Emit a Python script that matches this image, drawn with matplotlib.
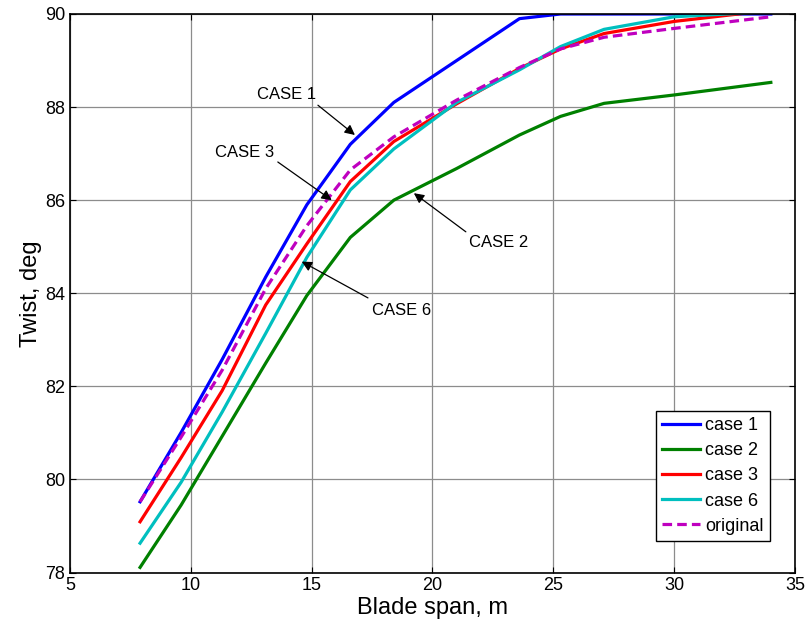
import matplotlib
matplotlib.use("Agg")
import matplotlib.pyplot as plt

plt.rcParams['font.family'] = ['Liberation Sans', 'DejaVu Sans']

span = [7.9, 9.6, 11.3, 13.1, 14.8, 16.6, 18.4, 21.0, 23.6, 25.3, 27.1, 30.0, 34.0]
case1 = [79.52, 81.01, 82.58, 84.35, 85.90, 87.20, 88.10, 89.00, 89.90, 90.00, 90.00, 90.00, 90.00]
case2 = [78.11, 79.45, 80.93, 82.50, 83.95, 85.20, 86.00, 86.68, 87.40, 87.80, 88.08, 88.26, 88.53]
case3 = [79.09, 80.47, 81.91, 83.75, 85.06, 86.40, 87.26, 88.07, 88.83, 89.25, 89.58, 89.84, 90.08]
case6 = [78.63, 79.94, 81.45, 83.14, 84.77, 86.22, 87.10, 88.10, 88.80, 89.30, 89.67, 89.94, 90.05]
original = [79.52, 80.91, 82.35, 84.10, 85.45, 86.65, 87.36, 88.15, 88.85, 89.25, 89.50, 89.69, 89.94]

series = [
    ("case 1", case1, "#0000ff", "-"),
    ("case 2", case2, "#008000", "-"),
    ("case 3", case3, "#ff0000", "-"),
    ("case 6", case6, "#00bfbf", "-"),
    ("original", original, "#bf00bf", "--"),
]

# annotations: label, text position, arrow tail, arrow tip
notes = [
    ("CASE 1", (13.98, 88.26), (15.26, 88.04), (16.79, 87.40)),
    ("CASE 3", (12.24, 87.03), (13.60, 86.82), (15.83, 86.00)),
    ("CASE 6", (18.74, 83.64), (17.33, 83.90), (14.59, 84.68)),
    ("CASE 2", (22.75, 85.08), (21.38, 85.32), (19.23, 86.15)),
]

fig = plt.figure(figsize=(8.09, 6.27), dpi=100)
ax = fig.add_axes([0.0865, 0.0869, 0.8962, 0.8908])

for name, vals, col, ls in series:
    ax.plot(span, vals, color=col, linestyle=ls, linewidth=2.3, label=name,
            dashes=(3, 1.6) if ls == "--" else (None, None))

for lab, tpos, tail, tip in notes:
    ax.text(tpos[0], tpos[1], lab, fontsize=12, ha="center", va="center")
    ax.annotate("", xy=tip, xytext=tail,
                arrowprops=dict(arrowstyle="-|>", color="black", lw=0.9,
                                mutation_scale=15, shrinkA=0, shrinkB=0))

ax.set_xlim(5, 35)
ax.set_ylim(78, 90)
ax.set_xticks([5, 10, 15, 20, 25, 30, 35])
ax.set_yticks([78, 80, 82, 84, 86, 88, 90])
ax.grid(True, color="#8c8c8c", linewidth=0.9)
ax.set_axisbelow(True)
ax.tick_params(direction="in", top=True, right=True, labelsize=13, length=4)
for sp in ax.spines.values():
    sp.set_linewidth(1.2)
ax.set_xlabel("Blade span, m", fontsize=17, labelpad=2)
ax.set_ylabel("Twist, deg", fontsize=17, labelpad=2)

leg = ax.legend(loc="lower right", bbox_to_anchor=(0.9655, 0.0564),
                fontsize=13, frameon=True, fancybox=False,
                edgecolor="black", framealpha=1, handlelength=2.1,
                handletextpad=0.3, borderpad=0.35, labelspacing=0.45,
                borderaxespad=0.0)
leg.get_frame().set_linewidth(1.0)

fig.savefig("out.png", dpi=100)
